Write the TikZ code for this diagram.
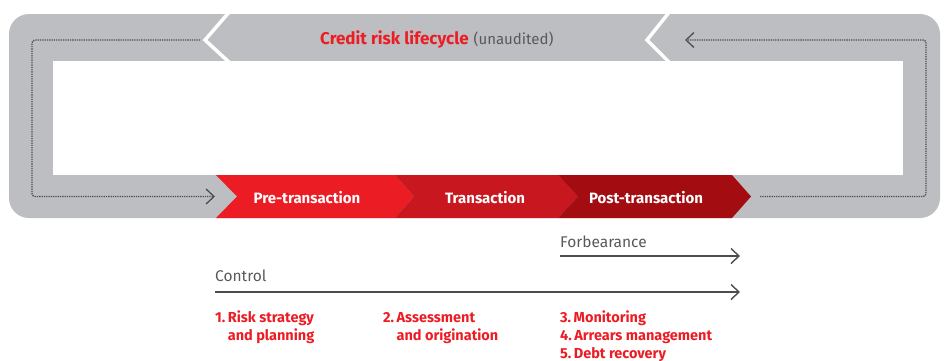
\documentclass[tikz,border=0pt]{standalone}
\usepackage{fontspec}
\setmainfont{Fira Sans}
\usetikzlibrary{arrows.meta,positioning}
\definecolor{framegray}{HTML}{BDBEC1}
\definecolor{stageA}{HTML}{EC1C24}
\definecolor{stageB}{HTML}{C8171E}
\definecolor{stageC}{HTML}{A30C11}
\definecolor{riskred}{HTML}{EC1C24}
\definecolor{labelgray}{HTML}{58595B}
\definecolor{loopgray}{HTML}{4D4D4F}

\begin{document}
\begin{tikzpicture}[
    x=1pt, y=-1pt,
    stage/.style={font=\fontsize{15}{17}\selectfont\bfseries, text=white, anchor=base, inner sep=0pt},
    stepnote/.style={font=\fontsize{14.5}{18}\selectfont\bfseries, text=riskred, align=left, anchor=base west, inner sep=0pt},
    flowname/.style={font=\fontsize{15.5}{17}\selectfont, text=labelgray, anchor=base west, inner sep=0pt},
    looppath/.style={draw=loopgray, densely dotted, line width=1.3pt, rounded corners=3pt},
    flowline/.style={draw=loopgray, line width=1.4pt},
    >={Straight Barb[length=8pt,width=15pt]}
]
    \useasboundingbox (0,0) rectangle (944,360);

    % grey lifecycle frame
    \fill[framegray, rounded corners=20pt] (9,14) rectangle (940,218);
    \fill[white] (53,61) rectangle (903,175);
    \draw[white, line width=3.5pt] (231,10) -- (205,40) -- (231,64);
    \draw[white, line width=3.5pt] (671,10) -- (647,40) -- (671,64);

    % stage chevrons
    \fill[stageA] (216,175) -- (395,175) -- (414,196.5) -- (395,218) -- (216,218) -- (237,196.5) -- cycle;
    \fill[stageB] (395,175) -- (558,175) -- (578,196.5) -- (558,218) -- (395,218) -- (414,196.5) -- cycle;
    \fill[stageC] (558,175) -- (732,175) -- (751,196.5) -- (732,218) -- (558,218) -- (578,196.5) -- cycle;

    \node[stage] (pre) at (307,203) {Pre-transaction};
    \node[stage] (trans) at (485,203) {Transaction};
    \node[stage] (post) at (646,203) {Post-transaction};

    \node[anchor=base west, inner sep=0pt, font=\fontsize{15}{17}\selectfont, text=labelgray] (title) at (320,44)
        {\textcolor{riskred}{\fontsize{17}{19}\selectfont\bfseries Credit risk lifecycle}\hspace{5pt}(unaudited)};

    % dotted loops
    \coordinate (lefttop) at (200,40);
    \coordinate (leftend) at (215,196.5);
    \coordinate (rightbot) at (760,196.5);
    \coordinate (rightend) at (685,40);
    \draw[looppath, ->] (lefttop) -| (32,196.5) -- (leftend);
    \draw[looppath, ->] (rightbot) -| (926,40) -- (rightend);

    % flows below
    \node[flowname] (forb) at (560,247) {Forbearance};
    \coordinate (forbstart) at (560,256);
    \coordinate (forbend) at (740,256);
    \draw[flowline, ->] (forbstart) -- (forbend);

    \node[flowname] (control) at (215,281) {Control};
    \coordinate (ctrlstart) at (215,292);
    \coordinate (ctrlend) at (740,292);
    \draw[flowline, ->] (ctrlstart) -- (ctrlend);

    % numbered steps (base = last line)
    \node[stepnote] (step1) at (215,340) {1.\,Risk strategy\\\hphantom{1.\,}and planning};
    \node[stepnote] (step2) at (383,340) {2.\,Assessment\\\hphantom{2.\,}and origination};
    \node[stepnote] (step3) at (560,358) {3.\,Monitoring\\4.\,Arrears management\\5.\,Debt recovery};
\end{tikzpicture}
\end{document}
